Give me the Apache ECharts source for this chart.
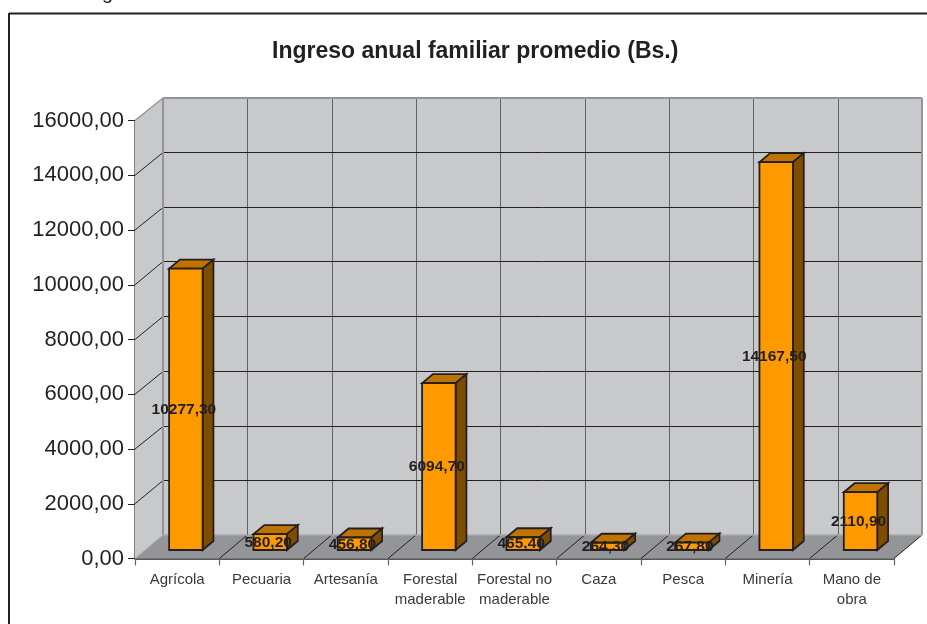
<!DOCTYPE html>
<html><head><meta charset="utf-8">
<style>html,body{margin:0;padding:0;background:#fff}#c{width:927px;height:624px}</style>
<script src="https://cdn.jsdelivr.net/npm/echarts@6/dist/echarts.min.js"></script>
</head><body><div id="c"></div>
<script>
const categories = ["Agrícola","Pecuaria","Artesanía","Forestal\nmaderable","Forestal no\nmaderable","Caza","Pesca","Minería","Mano de\nobra"];
const values = [10277.30,580.20,456.80,6094.70,465.40,264.30,267.80,14167.50,2110.90];
const yTicks = [0,2000,4000,6000,8000,10000,12000,14000,16000];
const titleText = "Ingreso anual familiar promedio (Bs.)";
const fmt = v => v.toFixed(2).replace('.',',');
const FONT = '"Liberation Sans", Arial, sans-serif';
const INK = '#231f20';
const DX = 28, DY = 23.5;           // wall depth
const BX = 8.7, BY = 8.5;           // bar offset from the front plane
const BW = 33.5, SX = 10.8, SY = 9; // bar width and depth
const snap = v => Math.round(v)+0.5;

function poly(pts, fill, stroke, lw, z2){
  return {type:'polygon', z2:z2||0, shape:{points:pts}, style:{fill:fill||'none', stroke:stroke||'none', lineWidth:lw||0, lineJoin:'miter'}};
}
function line(x1,y1,x2,y2,stroke,lw,z2){
  return {type:'line', z2:z2||0, shape:{x1,y1,x2,y2}, style:{stroke, lineWidth:lw}};
}
function renderWalls(params, api){
  const band = api.size([1,0])[0];
  const c0 = api.coord([0,0]);
  const x0 = c0[0]-band/2, y0 = c0[1];
  const x1 = x0+band*categories.length;
  const yT = api.coord([0,yTicks[yTicks.length-1]])[1];
  const ch = [];
  ch.push(poly([[x0+DX,yT-DY+1],[x1+DX,yT-DY+1],[x1+DX,y0-DY],[x0+DX,y0-DY]],'#c8c9cb'));
  ch.push(poly([[x0,yT],[x0+DX,yT-DY+1],[x0+DX,y0-DY],[x0,y0]],'#c8c9cb'));
  ch.push(poly([[x0,y0],[x1,y0],[x1+DX,y0-DY],[x0+DX,y0-DY]],'#939598'));
  yTicks.forEach(t=>{
    const y = api.coord([0,t])[1];
    if(t>0 && t<yTicks[yTicks.length-1]){
      const by = snap(y-DY);
      ch.push(line(x0,y,x0+DX,by,INK,1,2));
      ch.push(line(x0+DX,by,x1+DX,by,INK,1,2));
    }
  });
  for(let i=0;i<=categories.length;i++){
    const x = x0+band*i;
    if(i>0 && i<categories.length) ch.push(line(snap(x+DX),yT-DY+1,snap(x+DX),y0-DY,'#636466',1,1));
    if(i>0) ch.push(line(x,y0,x+DX,y0-DY,INK,1,3));
  }
  ch.push(line(x0+DX,yT-DY+1,x1+DX,yT-DY+1,'#939598',2,4));
  ch.push(line(x1+DX,yT-DY+1,x1+DX,y0-DY,'#939598',2,4));
  ch.push(line(x0+DX,yT-DY+1,x0+DX,y0-DY,'#939598',2,4));
  ch.push(line(x0,yT,x0+DX,yT-DY+1,'#939598',1.5,4));
  ch.push(line(x0+DX,y0-DY,x1+DX,y0-DY,'#a7a9ac',1.5,4));
  ch.push(line(x0,y0,x0+DX,y0-DY,'#a7a9ac',1,4));
  return {type:'group', children:ch};
}
function renderBar(params, api){
  const c = api.coord([api.value(0),api.value(1)]);
  const b = api.coord([api.value(0),0]);
  const xl = c[0]+BX-BW/2, xr = xl+BW, yt = c[1]-BY, yb = b[1]-BY;
  return {type:'group', children:[
    poly([[xl,yt],[xl+SX,yt-SY],[xr+SX,yt-SY],[xr,yt]],'#bf7300',INK,1.8),
    poly([[xr,yt],[xr+SX,yt-SY],[xr+SX,yb-SY],[xr,yb]],'#7f4d00',INK,1.8),
    poly([[xl,yt],[xr,yt],[xr,yb],[xl,yb]],'#ff9900',INK,1.8)
  ]};
}
function renderLabel(params, api){
  const c = api.coord([api.value(0),api.value(1)]);
  const b = api.coord([api.value(0),0]);
  return {type:'text', style:{text:fmt(api.value(1)), x:c[0]+BX-2, y:(c[1]+b[1])/2-BY+0.5, align:'center', verticalAlign:'middle', font:'bold 15.5px '+FONT, fill:INK}};
}
const barData = values.map((v,i)=>[i,v]);
const chart = echarts.init(document.getElementById('c'),null,{renderer:'canvas',width:927,height:624});
chart.setOption({
  animation:false,
  backgroundColor:'#fff',
  title:{text:titleText,left:267,top:35,textStyle:{fontFamily:FONT,fontSize:23,fontWeight:'bold',color:INK}},
  grid:{left:135,right:33,top:120.5,bottom:65.5},
  xAxis:{type:'category',data:categories,
    axisLine:{show:true,onZero:false,lineStyle:{color:INK,width:1.5}},
    axisTick:{show:true,length:7,lineStyle:{color:'#636466',width:1.2}},
    splitLine:{show:false},
    axisLabel:{interval:0,fontFamily:FONT,fontSize:15,color:'#3a3a3c',margin:11,lineHeight:20}},
  yAxis:{type:'value',min:0,max:16000,interval:2000,
    axisLine:{show:true,lineStyle:{color:'#58595b',width:1.5}},
    axisTick:{show:true,length:7,lineStyle:{color:INK,width:1}},
    splitLine:{show:false},
    axisLabel:{fontFamily:FONT,fontSize:22,color:INK,margin:11,padding:[6,0,0,0],formatter:fmt}},
  series:[
    {type:'custom',silent:true,clip:false,z:1,renderItem:renderWalls,data:[[0,0]],encode:{x:0,y:1}},
    {type:'custom',silent:true,clip:false,z:3,renderItem:renderBar,data:barData,encode:{x:0,y:1}},
    {type:'custom',silent:true,clip:false,z:4,renderItem:renderLabel,data:barData,encode:{x:0,y:1}}
  ],
  graphic:[
    {type:'line',z:10,shape:{x1:9,y1:13.5,x2:927,y2:13.5},style:{stroke:INK,lineWidth:2}},
    {type:'line',z:10,shape:{x1:9,y1:13,x2:9,y2:624},style:{stroke:INK,lineWidth:2}},
    {type:'text',z:10,style:{text:'g',x:102,y:-17,font:'20px '+FONT,fill:INK}}
  ]
});
</script></body></html>
